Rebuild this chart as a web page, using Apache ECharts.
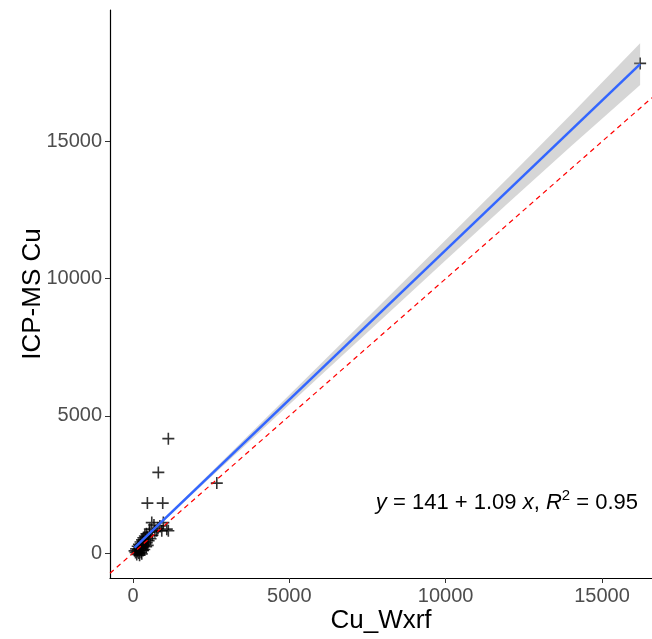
<!DOCTYPE html>
<html>
<head>
<meta charset="utf-8">
<script src="https://cdn.jsdelivr.net/npm/echarts@6/dist/echarts.min.js"></script>
<style>
html,body{margin:0;padding:0;background:#fff;}
#chart{width:652px;height:639px;}
</style>
</head>
<body>
<div id="chart"></div>
<script>
// ---- data ----
const xTicks = [0, 5000, 10000, 15000];
const yTicks = [0, 5000, 10000, 15000];

const cuWxrf = [50, 80, 100, 120, 140, 150, 160, 180, 190, 200, 210, 220, 240, 250, 260, 270, 280, 290, 300, 310, 320, 330, 340, 350, 360, 380, 390, 400, 420, 430, 440, 460, 470, 500, 520, 540, 560, 600, 620, 670, 700, 760, 800, 860, 920, 950, 970, 1080, 1130, 460, 810, 1130, 2680, 16220];
const icpmsCu = [80, 20, 150, -50, 60, 250, 120, 0, 320, 180, -80, 90, 400, 260, 30, 150, -30, 480, 350, 200, 90, 560, 280, 420, 130, 620, 330, 500, 230, 700, 380, 600, 280, 450, 760, 870, 520, 1110, 650, 1020, 780, 810, 900, 990, 810, 1820, 1110, 870, 810, 1820, 2940, 4170, 2550, 17850];

// fitted line y = 141 + 1.09 x (end points)
const fitX = [50, 16220];
const fitY = [196, 17821];

// confidence band: x positions, centre and half-widths
const bandX = [50, 2000, 4000, 6000, 8000, 10000, 12000, 14000, 16220];
const bandMid = [196, 2321, 4501, 6681, 8861, 11041, 13221, 15401, 17821];
const bandHalf = [30, 70, 140, 210, 290, 370, 460, 580, 760];

// identity line y = x
const idX = [-736, 16600];
const idY = [-736, 16600];

const equationText = '{i|y} = 141 + 1.09 {i|x}, {i|R}{sup|2} = 0.95';

// ---- chart ----
const chart = echarts.init(document.getElementById('chart'));
const font = 'Liberation Sans, Arial, sans-serif';

const points = cuWxrf.map((x, i) => [x, icpmsCu[i]]);
const fitData = fitX.map((x, i) => [x, fitY[i]]);
const idData = idX.map((x, i) => [x, idY[i]]);

const plusPath = 'path://M0,5.2H12V6.8H0Z M5.2,0H6.8V12H5.2Z';
const plain = v => String(v);

chart.setOption({
  animation: false,
  backgroundColor: '#fff',
  textStyle: { fontFamily: font },
  grid: { left: 110, right: 0, top: 10, bottom: 60 },
  xAxis: {
    type: 'value', min: -736, max: 16600,
    name: 'Cu_Wxrf', nameLocation: 'middle', nameGap: 30, nameMoveOverlap: false,
    nameTextStyle: { fontSize: 26, color: '#000', fontFamily: font },
    axisLine: { show: true, onZero: false, lineStyle: { color: '#000', width: 1.2 } },
    axisTick: { show: true, customValues: xTicks, length: 5, lineStyle: { color: '#333', width: 1 } },
    axisLabel: { customValues: xTicks, formatter: plain, color: '#4D4D4D', fontSize: 20, margin: 8, fontFamily: font },
    splitLine: { show: false }
  },
  yAxis: {
    type: 'value', min: -910, max: 19796,
    name: 'ICP-MS Cu', nameLocation: 'middle', nameGap: 64, nameMoveOverlap: false,
    nameTextStyle: { fontSize: 26, color: '#000', fontFamily: font },
    axisLine: { show: true, onZero: false, lineStyle: { color: '#000', width: 1.2 } },
    axisTick: { show: true, customValues: yTicks, length: 5, lineStyle: { color: '#333', width: 1 } },
    axisLabel: { customValues: yTicks, formatter: plain, color: '#4D4D4D', fontSize: 20, margin: 8, fontFamily: font },
    splitLine: { show: false }
  },
  series: [
    {
      type: 'scatter', data: points, symbol: plusPath, symbolSize: 12,
      itemStyle: { color: '#000' }, silent: true, z: 2
    },
    {
      type: 'custom', data: [0], silent: true, z: 3, clip: true,
      renderItem: function (params, api) {
        const upper = bandX.map((x, i) => api.coord([x, bandMid[i] + bandHalf[i]]));
        const lower = bandX.map((x, i) => api.coord([x, bandMid[i] - bandHalf[i]])).reverse();
        return {
          type: 'polygon',
          shape: { points: upper.concat(lower) },
          style: { fill: 'rgba(153,153,153,0.4)' }
        };
      }
    },
    {
      type: 'line', data: fitData, showSymbol: false, silent: true, z: 4,
      lineStyle: { color: '#3366FF', width: 2.5 }
    },
    {
      type: 'line', data: idData, showSymbol: false, silent: true, z: 5,
      lineStyle: { color: '#FF0000', width: 1.2, type: [5, 4] }
    }
  ],
  graphic: [{
    type: 'text', right: 14, top: 488, z: 10,
    style: {
      text: equationText,
      fill: '#000', fontSize: 22, fontFamily: font,
      rich: {
        i: { fontStyle: 'italic', fontSize: 22, fontFamily: font, fill: '#000' },
        sup: { fontSize: 15, fontFamily: font, fill: '#000', padding: [0, 0, 14, 0] }
      }
    }
  }]
});
</script>
</body>
</html>
